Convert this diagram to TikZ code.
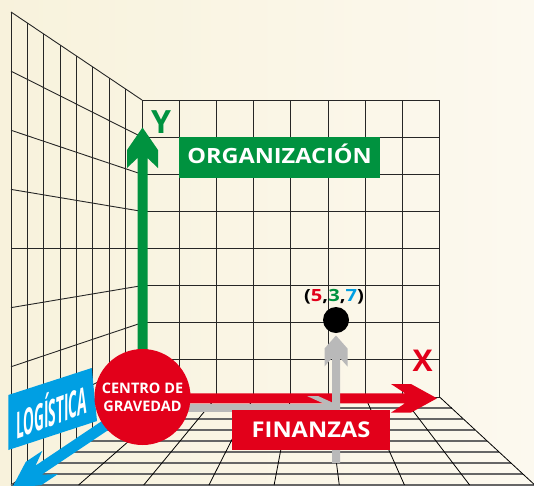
\documentclass[tikz,border=0pt]{standalone}
\usepackage{fontspec}
\setmainfont{Open Sans}
\usetikzlibrary{calc}
\definecolor{cgreen}{HTML}{00923F}
\definecolor{cred}{HTML}{E2001A}
\definecolor{cblue}{HTML}{009FE3}
\definecolor{cgray}{HTML}{B9B9B9}
\definecolor{bgL}{HTML}{F8F2DC}
\definecolor{bgR}{HTML}{FCF9EF}
\begin{document}
\begin{tikzpicture}[x=1pt,y=-1pt,
  wall/.style={draw=black!85, line width=0.9pt},
  floorh/.style={draw=black!60, line width=1.3pt},
  floord/.style={draw=black, line width=0.8pt},
  txt/.style={inner sep=0pt, font=\bfseries\fontsize{#1}{#1}\selectfont}]
\useasboundingbox (0,0) rectangle (534,485);
\clip (0,0) rectangle (534,485);
\fill[left color=bgL, middle color=white, right color=bgR] (0,0) rectangle (534,485);
% left wall
\foreach \j in {0,...,8}{
  \pgfmathsetmacro\xx{11+\j*16.375}
  \draw[wall] (\xx,{12+(\xx-11)*0.67176}) -- (\xx,{485-(\xx-11)*0.67176});
}
\foreach \i in {0,...,8}{
  \draw[wall] (11,{12+\i*59.125}) -- (142,{100+\i*37.125});
}
% back wall
\foreach \k in {0,...,8}{
  \draw[wall] ({142+\k*37.2},100) -- ({142+\k*37.2},397);
  \draw[wall] (142,{100+\k*37.125}) -- (439.6,{100+\k*37.125});
}
% floor
\foreach \i in {1,...,8}{
  \pgfmathsetmacro\yy{397+\i*11}
  \draw[floorh] ({142-(\yy-397)*1.4886},\yy) -- ({439.6+(\yy-397)*1.084},\yy);
}
\foreach \k in {0,...,8}{
  \pgfmathsetmacro\xo{142+\k*37.2}
  \draw[floord] (\xo,397) -- ({313+(\xo-313)*1.752},485);
}
% logistica banner and arrow
\fill[cblue] (8.3,395) -- (91.7,368) -- (97,421) -- (8.3,450) -- cycle;
\begin{scope}[shift={(12,488)}, x={(0.8302pt,0.5574pt)}, y={(0.5574pt,-0.8302pt)}]
  \fill[cblue] (0,0) -- (26,-14) -- (46,-14) -- (32,-5.5) -- (150,-5.5) -- (150,5.5) -- (32,5.5) -- (46,14) -- (26,14) -- cycle;
\end{scope}
\node[txt=37, white, cm={0.37,0.135,0,1,(0,0)}] (logtxt) at (51.5,409) {LOGÍSTICA};
% green Y arrow
\fill[cgreen] (137.5,370) -- (137.5,158) -- (127,168) -- (127,150) -- (142.5,127.5) -- (158,150) -- (158,168) -- (147.5,158) -- (147.5,370) -- cycle;
% red X arrow
\fill[cred] (180,393.3) -- (405,393.3) -- (391,384) -- (411,384) -- (437,398.3) -- (411,412.6) -- (391,412.6) -- (405,403.3) -- (180,403.3) -- cycle;
% gray path
\fill[cgray] (185,404) rectangle (340,412);
\fill[cgray] (307,396) -- (318,396) -- (340,406) -- (329,406) -- cycle;
\fill[cgray] (332,463) -- (332,358) -- (324.5,366.5) -- (324.5,348.5) -- (336,335.5) -- (347.5,348.5) -- (347.5,366.5) -- (340,358) -- (340,463) -- cycle;
% boxes
\node[fill=cred, minimum width=158pt, minimum height=40pt, inner sep=0pt, text=white, font=\bfseries\fontsize{21.7}{21.7}\selectfont] (fin) at (311,430) {\scalebox{1.09}[1]{FINANZAS}};
\node[fill=cgreen, minimum width=201pt, minimum height=41pt, inner sep=0pt, text=white, text height=15pt, text depth=4pt, font=\bfseries\fontsize{21}{21}\selectfont] (org) at (279.5,157.5) {\scalebox{1.12}[1]{ORGANIZACIÓN}};
% centre
\node[circle, fill=cred, minimum size=96pt, inner sep=0pt, text=white, align=center, font=\bfseries\fontsize{14.5}{18}\selectfont] (cg) at (142.5,397) {CENTRO DE\\GRAVEDAD};
% point
\fill[black] (336,320) circle (13);
\node[txt=16.8] (pt) at (334,297) {\scalebox{1.2}[1]{(\textcolor{cred}{5},\textcolor{cgreen}{3},\textcolor{cblue}{7})}};
\node[txt=32, text=cgreen] (ylab) at (161,122) {Y};
\node[txt=30, text=cred] (xlab) at (422.5,361) {X};
\end{tikzpicture}
\end{document}
